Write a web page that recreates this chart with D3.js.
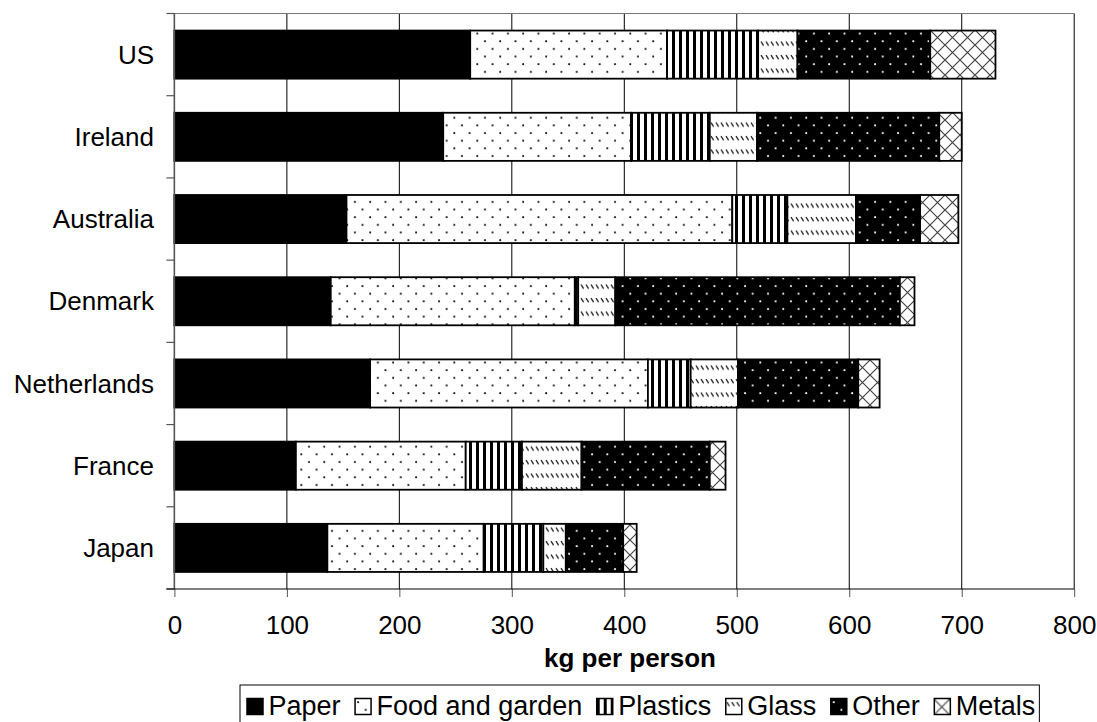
<!DOCTYPE html>
<html>
<head>
<meta charset="utf-8">
<script src="https://cdn.jsdelivr.net/npm/d3@7"></script>
<style>
  html, body { margin: 0; padding: 0; background: #fff; }
  svg { display: block; font-family: "Liberation Sans", Arial, sans-serif; }
</style>
</head>
<body>
<svg id="chart" width="1097" height="722"></svg>
<script>
// Municipal waste per person, by material
const categories = ["US", "Ireland", "Australia", "Denmark", "Netherlands", "France", "Japan"];
const seriesNames = ["Paper", "Food and garden", "Plastics", "Glass", "Other", "Metals"];
const paper      = [263, 239, 153, 139, 174, 108, 136];
const foodGarden = [175, 167, 343, 217, 247, 151, 139];
const plastics   = [81, 70, 49, 3, 38, 50, 53];
const glass      = [35, 42, 61, 33, 42, 53, 20];
const other      = [118, 162, 57, 253, 107, 114, 51];
const metals     = [58, 20, 34, 13, 19, 14, 12];
const xTicks     = [0, 100, 200, 300, 400, 500, 600, 700, 800];
const xTitle     = "kg per person";

const seriesValues = [paper, foodGarden, plastics, glass, other, metals];
const patternIds = ["pat-paper", "pat-food", "pat-plastics", "pat-glass", "pat-other", "pat-metals"];

const rows = categories.map((c, i) => {
  const r = { country: c };
  seriesNames.forEach((s, j) => { r[s] = seriesValues[j][i]; });
  return r;
});

const svg = d3.select("#chart");
const plotLeft = 174.4, plotRight = 1074.2, plotTop = 13.5, plotBottom = 589;
const axisFont = 26, legendFont = 27;

const x = d3.scaleLinear().domain([0, 800]).range([plotLeft, plotRight]);
const y = d3.scaleBand().domain(categories).range([plotTop, plotBottom])
  .paddingInner(0.415).paddingOuter(0.2075);

// ---- fill patterns ----
const defs = svg.append("defs");

// solid black
defs.append("pattern").attr("id", "pat-paper").attr("patternUnits", "userSpaceOnUse")
  .attr("width", 8).attr("height", 8)
  .append("rect").attr("width", 8).attr("height", 8).attr("fill", "#000");

// sparse staggered dots
function dotPattern(id, bg, dot) {
  const p = defs.append("pattern").attr("id", id).attr("patternUnits", "userSpaceOnUse")
    .attr("width", 15.3).attr("height", 15.3);
  p.append("rect").attr("width", 15.3).attr("height", 15.3).attr("fill", bg);
  p.append("circle").attr("cx", 3).attr("cy", 3).attr("r", 1).attr("fill", dot);
  p.append("circle").attr("cx", 10.65).attr("cy", 10.65).attr("r", 1).attr("fill", dot);
}
dotPattern("pat-food", "#fff", "#111");
dotPattern("pat-other", "#000", "#fff");

// vertical stripes
{
  const p = defs.append("pattern").attr("id", "pat-plastics").attr("patternUnits", "userSpaceOnUse")
    .attr("width", 7).attr("height", 7);
  p.append("rect").attr("width", 7).attr("height", 7).attr("fill", "#fff");
  p.append("rect").attr("x", 0).attr("width", 3).attr("height", 7).attr("fill", "#000");
}

// rows of short backslash dashes
{
  const p = defs.append("pattern").attr("id", "pat-glass").attr("patternUnits", "userSpaceOnUse")
    .attr("width", 5).attr("height", 13.5);
  p.append("rect").attr("width", 5).attr("height", 13.5).attr("fill", "#fff");
  p.append("line").attr("x1", 1).attr("y1", 1).attr("x2", 3.6).attr("y2", 5.2)
    .attr("stroke", "#222").attr("stroke-width", 1.3);
}

// diagonal crosshatch
{
  const p = defs.append("pattern").attr("id", "pat-metals").attr("patternUnits", "userSpaceOnUse")
    .attr("width", 15).attr("height", 15);
  p.append("rect").attr("width", 15).attr("height", 15).attr("fill", "#fff");
  p.append("path").attr("d", "M0,0L15,15M15,0L0,15M-1,14L1,16M14,-1L16,1")
    .attr("stroke", "#444").attr("stroke-width", 1.2).attr("fill", "none");
}

// ---- grid ----
svg.append("g").selectAll("line").data(xTicks).join("line")
  .attr("x1", d => x(d)).attr("x2", d => x(d))
  .attr("y1", plotTop).attr("y2", plotBottom)
  .attr("stroke", "#000").attr("stroke-width", 1);

svg.append("line").attr("x1", plotLeft).attr("x2", plotRight).attr("y1", plotTop).attr("y2", plotTop)
  .attr("stroke", "#777").attr("stroke-width", 1);

// ---- stacked bars ----
const stack = d3.stack().keys(seriesNames)(rows);

svg.append("g").selectAll("g").data(stack).join("g")
  .attr("fill", (d, i) => `url(#${patternIds[i]})`)
  .selectAll("rect").data(d => d).join("rect")
  .attr("x", d => x(d[0]))
  .attr("width", d => x(d[1]) - x(d[0]))
  .attr("y", d => y(d.data.country))
  .attr("height", y.bandwidth())
  .attr("stroke", "#000").attr("stroke-width", 1.8);

// ---- left axis ----
const yAxis = svg.append("g");
yAxis.append("line").attr("x1", plotLeft).attr("x2", plotLeft).attr("y1", plotTop).attr("y2", plotBottom)
  .attr("stroke", "#555").attr("stroke-width", 1.5);
const boundaries = d3.range(categories.length + 1).map(i => plotTop + i * y.step());
yAxis.selectAll("line.tick").data(boundaries).join("line").attr("class", "tick")
  .attr("x1", plotLeft - 8).attr("x2", plotLeft).attr("y1", d => d).attr("y2", d => d)
  .attr("stroke", "#555").attr("stroke-width", 1.2);
yAxis.selectAll("text").data(categories).join("text")
  .attr("x", 154).attr("y", d => y(d) + y.bandwidth() / 2)
  .attr("dy", "0.35em").attr("text-anchor", "end")
  .attr("font-size", axisFont).attr("fill", "#000").text(d => d);

// ---- bottom axis ----
const xAxis = svg.append("g").attr("transform", `translate(0,${plotBottom})`)
  .call(d3.axisBottom(x).tickValues(xTicks).tickSize(8).tickPadding(19).tickFormat(d3.format("d")));
xAxis.select(".domain").remove();
xAxis.append("line").attr("x1", plotLeft - 8).attr("x2", plotRight).attr("stroke", "#000").attr("stroke-width", 1.2);
xAxis.selectAll(".tick line").attr("stroke", "#555");
xAxis.selectAll(".tick text").attr("font-size", axisFont)
  .attr("font-family", "Liberation Sans, Arial, sans-serif").attr("fill", "#000");

svg.append("text").attr("x", 630).attr("y", 667)
  .attr("text-anchor", "middle").attr("font-size", axisFont).attr("font-weight", "bold")
  .text(xTitle);

// ---- legend ----
const legendBox = svg.append("rect");
const legend = svg.append("g");
const sw = 16, gapText = 5.5, gapItem = 14.5;
let cursor = 0;
seriesNames.forEach((name, i) => {
  const g = legend.append("g");
  g.append("rect").attr("x", 0).attr("y", -sw).attr("width", sw).attr("height", sw)
    .attr("fill", `url(#${patternIds[i]})`).attr("stroke", "#000").attr("stroke-width", 1.5);
  const t = g.append("text").attr("x", sw + gapText).attr("y", 0)
    .attr("font-size", legendFont).text(name);
  const w = sw + gapText + t.node().getComputedTextLength();
  g.attr("transform", `translate(${cursor},0)`);
  cursor += w + gapItem;
});
const totalW = cursor - gapItem;
const legendLeft = 247;
legend.attr("transform", `translate(${legendLeft},714.5)`);
legendBox.attr("x", legendLeft - 7).attr("y", 685).attr("width", totalW + 11).attr("height", 60)
  .attr("fill", "#fff").attr("stroke", "#000").attr("stroke-width", 1);
</script>
</body>
</html>
